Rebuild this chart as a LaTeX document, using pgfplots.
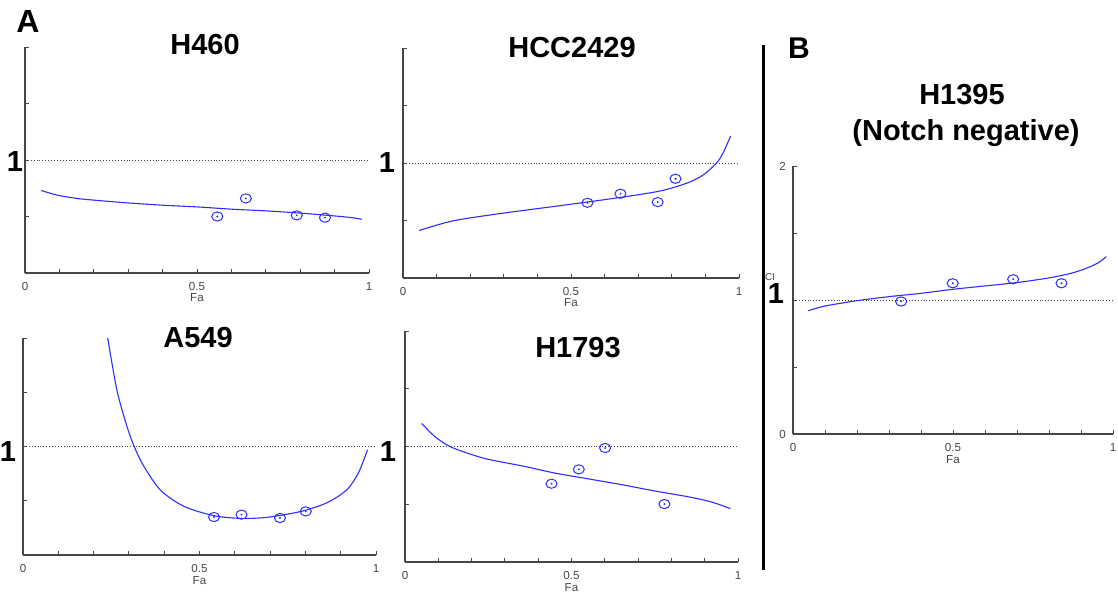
\documentclass[border=0pt]{standalone}
\usepackage{fontspec}
\setmainfont{Liberation Sans}
\usepackage{pgfplots}
\pgfplotsset{compat=1.18}
\definecolor{cb}{RGB}{45,45,255}
\definecolor{ax}{RGB}{70,70,70}

\pgfplotsset{
  ci/.style={
    scale only axis, anchor=south west,
    xmin=0, xmax=1, ymin=0, ymax=2,
    axis x line*=bottom, axis y line*=left,
    axis line style={-, ax, line width=0.55pt},
    xtick={0,0.1,0.2,0.3,0.4,0.5,0.6,0.7,0.8,0.9,1},
    xticklabels={0,,,,,0.5,,,,,1},
    ytick={0,0.5,1,1.5,2}, yticklabels={},
    tick align=inside, major tick length=1.8pt,
    tick style={ax, line width=0.45pt},
    tick label style={font=\fontsize{5.8}{6}\selectfont, text=ax},
    xticklabel style={yshift=-1pt},
    xlabel={Fa}, xlabel style={font=\fontsize{5.8}{6}\selectfont, text=ax, yshift=5pt},
    clip=false,
  },
  fit/.style={cb, line width=0.55pt, smooth},
  pts/.style={cb, only marks, mark=o, mark size=2.3pt, mark options={xscale=1.2, line width=0.5pt}},
  ctr/.style={cb, only marks, mark=*, mark size=0.25pt},
  one/.style={black!75, densely dotted, line width=0.45pt},
}

\begin{document}
\begin{tikzpicture}
\path[use as bounding box] (0,0) rectangle (559pt,-297pt);

% H460
\begin{axis}[ci, at={(12.5pt,-136.5pt)}, width=172pt, height=113pt]
\addplot[one] coordinates {(0,1) (1,1)};
\addplot[fit] coordinates {(0.047,0.73) (0.08,0.70) (0.1,0.685) (0.15,0.66) (0.2,0.645) (0.3,0.62) (0.4,0.60) (0.5,0.585) (0.6,0.565) (0.7,0.55) (0.8,0.53) (0.9,0.505) (0.95,0.49) (0.979,0.475)};
\addplot[pts] coordinates {(0.559,0.50) (0.642,0.66) (0.790,0.51) (0.872,0.49)};
\addplot[ctr] coordinates {(0.559,0.50) (0.642,0.66) (0.790,0.51) (0.872,0.49)};
\end{axis}

% HCC2429
\begin{axis}[ci, at={(201.5pt,-139pt)}, width=168pt, height=115pt]
\addplot[one] coordinates {(0,1) (1,1)};
\addplot[fit] coordinates {(0.048,0.413) (0.149,0.497) (0.298,0.564) (0.496,0.64) (0.645,0.70) (0.764,0.756) (0.843,0.823) (0.893,0.895) (0.933,1.0) (0.952,1.084) (0.975,1.235)};
\addplot[pts] coordinates {(0.549,0.654) (0.647,0.733) (0.758,0.66) (0.811,0.863)};
\addplot[ctr] coordinates {(0.549,0.654) (0.647,0.733) (0.758,0.66) (0.811,0.863)};
\end{axis}

% A549
\begin{axis}[ci, at={(11.5pt,-277.5pt)}, width=176.5pt, height=108.5pt]
\addplot[one] coordinates {(0,1) (1,1)};
\addplot[fit] coordinates {(0.24,2.0) (0.266,1.52) (0.294,1.19) (0.315,1.0) (0.342,0.82) (0.389,0.60) (0.455,0.45) (0.54,0.363) (0.615,0.338) (0.69,0.347) (0.785,0.40) (0.86,0.48) (0.917,0.60) (0.95,0.756) (0.976,0.97)};
\addplot[pts] coordinates {(0.541,0.35) (0.619,0.372) (0.728,0.341) (0.801,0.402)};
\addplot[ctr] coordinates {(0.541,0.35) (0.619,0.372) (0.728,0.341) (0.801,0.402)};
\end{axis}

% H1793
\begin{axis}[ci, at={(202.5pt,-281pt)}, width=166.5pt, height=115.5pt]
\addplot[one] coordinates {(0,1) (1,1)};
\addplot[fit] coordinates {(0.05,1.20) (0.09,1.085) (0.135,1.0) (0.19,0.94) (0.25,0.889) (0.355,0.83) (0.45,0.77) (0.55,0.72) (0.65,0.67) (0.75,0.615) (0.85,0.565) (0.92,0.52) (0.977,0.462)};
\addplot[pts] coordinates {(0.44,0.678) (0.522,0.802) (0.601,0.987) (0.779,0.502)};
\addplot[ctr] coordinates {(0.44,0.678) (0.522,0.802) (0.601,0.987) (0.779,0.502)};
\end{axis}

% H1395
\begin{axis}[ci, at={(396.5pt,-217pt)}, width=160pt, height=134pt, yticklabels={0,,,,2}]
\addplot[one] coordinates {(0,1) (1,1)};
\addplot[fit] coordinates {(0.048,0.92) (0.1,0.955) (0.2,0.995) (0.3,1.025) (0.4,1.05) (0.5,1.08) (0.6,1.105) (0.7,1.13) (0.8,1.165) (0.87,1.2) (0.92,1.24) (0.955,1.28) (0.979,1.324)};
\addplot[pts] coordinates {(0.338,0.989) (0.499,1.125) (0.688,1.155) (0.839,1.125)};
\addplot[ctr] coordinates {(0.338,0.989) (0.499,1.125) (0.688,1.155) (0.839,1.125)};
\end{axis}

% separator
\draw[line width=1.5pt] (381.5pt,-22.5pt) -- (381.5pt,-285pt);

% labels
\node[font=\fontsize{16}{18}\selectfont\bfseries] at (14pt,-10.5pt) {A};
\node[font=\fontsize{15}{18}\selectfont\bfseries] at (399.5pt,-24pt) {B};
\begin{scope}[every node/.style={font=\fontsize{14.5}{17}\selectfont\bfseries}]
\node at (102.5pt,-22.5pt) {H460};
\node at (286pt,-24pt) {HCC2429};
\node at (99pt,-169pt) {A549};
\node at (289pt,-174pt) {H1793};
\node at (481pt,-47.5pt) {H1395};
\node at (483pt,-66.5pt) {(Notch negative)};
\node at (7.5pt,-81pt) {1};
\node at (193.5pt,-81.5pt) {1};
\node at (4pt,-226pt) {1};
\node at (194pt,-226pt) {1};
\node at (388pt,-147pt) {1};
\end{scope}
\node[font=\fontsize{5}{6}\selectfont, text=ax] at (385pt,-138.5pt) {CI};
\end{tikzpicture}
\end{document}
